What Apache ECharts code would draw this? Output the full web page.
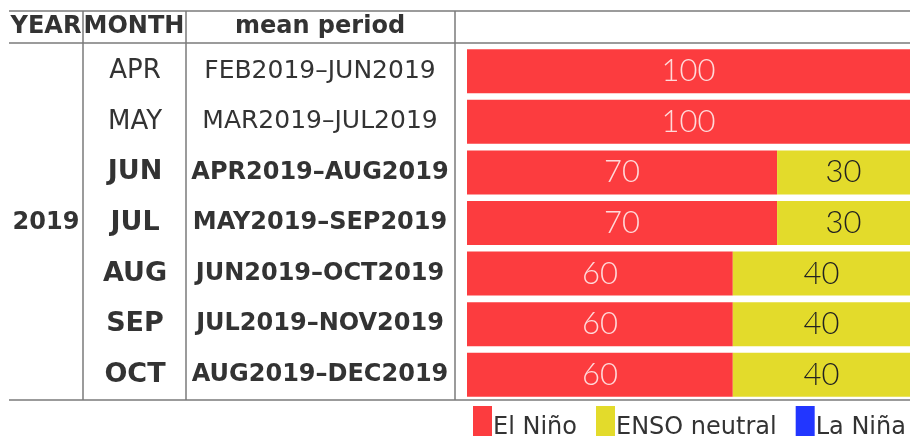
<!DOCTYPE html>
<html>
<head>
<meta charset="utf-8">
<script src="https://cdn.jsdelivr.net/npm/echarts@6/dist/echarts.min.js"></script>
<style>
  html,body{margin:0;padding:0;background:#fff;}
  #main{width:910px;height:436px;}
</style>
</head>
<body>
<div id="main"></div>
<script>
// table rows
let months  = ["APR","MAY","JUN","JUL","AUG","SEP","OCT"];
let periods = ["FEB2019–JUN2019","MAR2019–JUL2019","APR2019–AUG2019","MAY2019–SEP2019",
               "JUN2019–OCT2019","JUL2019–NOV2019","AUG2019–DEC2019"];
let years   = ["","","","2019","","",""];
// probabilities (%)
let elNino  = [100,100,70,70,60,60,60];
let neutral = [0,0,30,30,40,40,40];
let laNina  = [0,0,0,0,0,0,0];

const FONT = "DejaVu Sans";
const LINE = "#7a7a7a";
const TXT = "#333";

let myChart = echarts.init(document.getElementById('main'));

let boldIdx = (i)=> i>=2;
let rich = (nSize, bSize)=>({
    n:{fontFamily:FONT,fontSize:nSize,color:TXT,fontWeight:'normal'},
    b:{fontFamily:FONT,fontSize:bSize,color:TXT,fontWeight:'bold'}
});
let fmt = function(v, i){ return boldIdx(i) ? '{b|'+v+'}' : '{n|'+v+'}'; };

let catAxis = (data, margin, r)=>({
    type:'category', data:data, inverse:true, position:'left',
    axisLine:{show:false}, axisTick:{show:false}, splitLine:{show:false},
    axisLabel:{margin:margin, align:'center', interval:0, formatter:fmt, rich:r}
});

let barLabel = (color)=>({
    show:true, position:'inside', color:color,
    fontFamily:'Lato', fontWeight:300, fontSize:31,
    formatter:(p)=> p.value>0 ? p.value : ''
});

let hline = (y, x1, x2)=>({type:'line', shape:{x1:x1,y1:y,x2:x2,y2:y}, style:{stroke:LINE,lineWidth:1.5}, silent:true});
let vline = (x, y1, y2)=>({type:'line', shape:{x1:x,y1:y1,x2:x,y2:y2}, style:{stroke:LINE,lineWidth:1.5}, silent:true});
let head = (txt, x)=>({type:'text', x:x, y:27, style:{text:txt, font:'bold 24px "DejaVu Sans"', fill:TXT, align:'center', verticalAlign:'middle'}});

myChart.setOption({
    animation:false,
    grid:{left:467, right:0, top:46, bottom:36},
    legend:{
        data:['El Niño','ENSO neutral','La Niña'],
        left:473, top:406, width:700, padding:0, orient:'horizontal',
        icon:'rect', itemWidth:19, itemHeight:44, itemGap:19,
        textStyle:{fontFamily:FONT, fontSize:24, color:TXT, padding:[0,0,0,-4]}
    },
    xAxis:{type:'value', min:0, max:100, show:false},
    yAxis:[
        catAxis(months, 332, rich(26, 27)),
        catAxis(periods, 147, rich(25, 24)),
        {type:'category', data:years, inverse:true, position:'left',
         axisLine:{show:false}, axisTick:{show:false}, splitLine:{show:false},
         axisLabel:{margin:421, align:'center', interval:0, fontFamily:FONT, fontWeight:'bold', fontSize:24, color:TXT}}
    ],
    series:[
        {name:'El Niño', type:'bar', stack:'p', data:elNino, barCategoryGap:'13%',
         itemStyle:{color:'#fc3c3f'}, label:barLabel('rgba(255,235,235,0.9)')},
        {name:'ENSO neutral', type:'bar', stack:'p', data:neutral,
         itemStyle:{color:'#e3db2b'}, label:barLabel('#222')},
        {name:'La Niña', type:'bar', stack:'p', data:laNina,
         itemStyle:{color:'#2236ff'}, label:barLabel('#fff')}
    ],
    graphic:[
        hline(11, 9, 910), hline(43, 9, 910), hline(400, 9, 910),
        vline(83, 11, 400), vline(186, 11, 400), vline(455, 11, 400),
        head('YEAR', 46), head('MONTH', 134), head('mean period', 320)
    ]
});
</script>
</body>
</html>
